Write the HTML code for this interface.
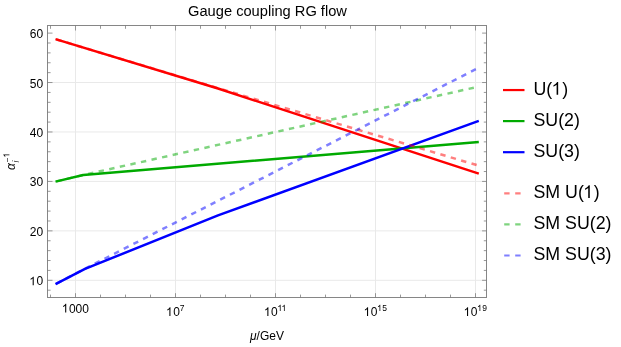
<!DOCTYPE html>
<html><head><meta charset="utf-8"><title>Gauge coupling RG flow</title>
<style>html,body{margin:0;padding:0;background:#fff;}body{width:621px;height:347px;overflow:hidden;}svg{display:block;will-change:transform;}text{font-family:"Liberation Sans",sans-serif;fill:#000;}</style></head><body>
<svg width="621" height="347" viewBox="0 0 621 347">
<rect x="0" y="0" width="621" height="347" fill="#ffffff"></rect>
<g stroke="#e9e9e9" stroke-width="1" fill="none">
<line x1="75.50" y1="25.5" x2="75.50" y2="297.5"></line>
<line x1="175.50" y1="25.5" x2="175.50" y2="297.5"></line>
<line x1="275.50" y1="25.5" x2="275.50" y2="297.5"></line>
<line x1="375.50" y1="25.5" x2="375.50" y2="297.5"></line>
<line x1="475.50" y1="25.5" x2="475.50" y2="297.5"></line>
<line x1="47.5" y1="280.30" x2="486.5" y2="280.30"></line>
<line x1="47.5" y1="230.86" x2="486.5" y2="230.86"></line>
<line x1="47.5" y1="181.42" x2="486.5" y2="181.42"></line>
<line x1="47.5" y1="131.98" x2="486.5" y2="131.98"></line>
<line x1="47.5" y1="82.54" x2="486.5" y2="82.54"></line>
</g>
<clipPath id="c"><rect x="47.5" y="25.5" width="439.0" height="272.0"></rect></clipPath>
<g fill="none" stroke-width="2.5" stroke-linejoin="round" clip-path="url(#c)">
<polyline points="55.50,39.15 218.00,88.55 478.80,173.60" stroke="#ff0000"></polyline>
<polyline points="55.50,181.60 83.20,175.00 478.80,141.90" stroke="#00aa00"></polyline>
<polyline points="55.50,284.10 85.00,268.90 218.00,215.35 478.80,120.85" stroke="#0000ff"></polyline>
<g stroke-dasharray="5.4 5.43" stroke-dashoffset="9.83" stroke-opacity="0.5">
<polyline points="55.50,39.15 218.00,88.10 478.80,165.70" stroke="#ff0000"></polyline>
<polyline points="55.50,181.60 83.20,175.00 478.80,86.60" stroke="#00aa00"></polyline>
<polyline points="55.50,284.10 85.00,268.70 478.80,67.70" stroke="#0000ff"></polyline>
</g></g>
<g stroke="#868686" stroke-width="1" fill="none">
<rect x="47.5" y="25.5" width="439.0" height="272.0"></rect>
<g stroke="#777777" stroke-width="0.75">
<line x1="50.50" y1="297.5" x2="50.50" y2="294.6"></line>
<line x1="50.50" y1="25.5" x2="50.50" y2="28.8"></line>
<line x1="75.50" y1="297.5" x2="75.50" y2="293.2"></line>
<line x1="75.50" y1="25.5" x2="75.50" y2="30.5"></line>
<line x1="100.50" y1="297.5" x2="100.50" y2="294.6"></line>
<line x1="100.50" y1="25.5" x2="100.50" y2="28.8"></line>
<line x1="125.50" y1="297.5" x2="125.50" y2="294.6"></line>
<line x1="125.50" y1="25.5" x2="125.50" y2="28.8"></line>
<line x1="150.50" y1="297.5" x2="150.50" y2="294.6"></line>
<line x1="150.50" y1="25.5" x2="150.50" y2="28.8"></line>
<line x1="175.50" y1="297.5" x2="175.50" y2="293.2"></line>
<line x1="175.50" y1="25.5" x2="175.50" y2="30.5"></line>
<line x1="200.50" y1="297.5" x2="200.50" y2="294.6"></line>
<line x1="200.50" y1="25.5" x2="200.50" y2="28.8"></line>
<line x1="225.50" y1="297.5" x2="225.50" y2="294.6"></line>
<line x1="225.50" y1="25.5" x2="225.50" y2="28.8"></line>
<line x1="250.50" y1="297.5" x2="250.50" y2="294.6"></line>
<line x1="250.50" y1="25.5" x2="250.50" y2="28.8"></line>
<line x1="275.50" y1="297.5" x2="275.50" y2="293.2"></line>
<line x1="275.50" y1="25.5" x2="275.50" y2="30.5"></line>
<line x1="300.50" y1="297.5" x2="300.50" y2="294.6"></line>
<line x1="300.50" y1="25.5" x2="300.50" y2="28.8"></line>
<line x1="325.50" y1="297.5" x2="325.50" y2="294.6"></line>
<line x1="325.50" y1="25.5" x2="325.50" y2="28.8"></line>
<line x1="350.50" y1="297.5" x2="350.50" y2="294.6"></line>
<line x1="350.50" y1="25.5" x2="350.50" y2="28.8"></line>
<line x1="375.50" y1="297.5" x2="375.50" y2="293.2"></line>
<line x1="375.50" y1="25.5" x2="375.50" y2="30.5"></line>
<line x1="400.50" y1="297.5" x2="400.50" y2="294.6"></line>
<line x1="400.50" y1="25.5" x2="400.50" y2="28.8"></line>
<line x1="425.50" y1="297.5" x2="425.50" y2="294.6"></line>
<line x1="425.50" y1="25.5" x2="425.50" y2="28.8"></line>
<line x1="450.50" y1="297.5" x2="450.50" y2="294.6"></line>
<line x1="450.50" y1="25.5" x2="450.50" y2="28.8"></line>
<line x1="475.50" y1="297.5" x2="475.50" y2="293.2"></line>
<line x1="475.50" y1="25.5" x2="475.50" y2="30.5"></line>
<line x1="47.5" y1="290.19" x2="50.6" y2="290.19"></line>
<line x1="486.5" y1="290.19" x2="483.8" y2="290.19"></line>
<line x1="47.5" y1="280.30" x2="52.5" y2="280.30"></line>
<line x1="486.5" y1="280.30" x2="482.1" y2="280.30"></line>
<line x1="47.5" y1="270.41" x2="50.6" y2="270.41"></line>
<line x1="486.5" y1="270.41" x2="483.8" y2="270.41"></line>
<line x1="47.5" y1="260.52" x2="50.6" y2="260.52"></line>
<line x1="486.5" y1="260.52" x2="483.8" y2="260.52"></line>
<line x1="47.5" y1="250.64" x2="50.6" y2="250.64"></line>
<line x1="486.5" y1="250.64" x2="483.8" y2="250.64"></line>
<line x1="47.5" y1="240.75" x2="50.6" y2="240.75"></line>
<line x1="486.5" y1="240.75" x2="483.8" y2="240.75"></line>
<line x1="47.5" y1="230.86" x2="52.5" y2="230.86"></line>
<line x1="486.5" y1="230.86" x2="482.1" y2="230.86"></line>
<line x1="47.5" y1="220.97" x2="50.6" y2="220.97"></line>
<line x1="486.5" y1="220.97" x2="483.8" y2="220.97"></line>
<line x1="47.5" y1="211.08" x2="50.6" y2="211.08"></line>
<line x1="486.5" y1="211.08" x2="483.8" y2="211.08"></line>
<line x1="47.5" y1="201.20" x2="50.6" y2="201.20"></line>
<line x1="486.5" y1="201.20" x2="483.8" y2="201.20"></line>
<line x1="47.5" y1="191.31" x2="50.6" y2="191.31"></line>
<line x1="486.5" y1="191.31" x2="483.8" y2="191.31"></line>
<line x1="47.5" y1="181.42" x2="52.5" y2="181.42"></line>
<line x1="486.5" y1="181.42" x2="482.1" y2="181.42"></line>
<line x1="47.5" y1="171.53" x2="50.6" y2="171.53"></line>
<line x1="486.5" y1="171.53" x2="483.8" y2="171.53"></line>
<line x1="47.5" y1="161.64" x2="50.6" y2="161.64"></line>
<line x1="486.5" y1="161.64" x2="483.8" y2="161.64"></line>
<line x1="47.5" y1="151.76" x2="50.6" y2="151.76"></line>
<line x1="486.5" y1="151.76" x2="483.8" y2="151.76"></line>
<line x1="47.5" y1="141.87" x2="50.6" y2="141.87"></line>
<line x1="486.5" y1="141.87" x2="483.8" y2="141.87"></line>
<line x1="47.5" y1="131.98" x2="52.5" y2="131.98"></line>
<line x1="486.5" y1="131.98" x2="482.1" y2="131.98"></line>
<line x1="47.5" y1="122.09" x2="50.6" y2="122.09"></line>
<line x1="486.5" y1="122.09" x2="483.8" y2="122.09"></line>
<line x1="47.5" y1="112.20" x2="50.6" y2="112.20"></line>
<line x1="486.5" y1="112.20" x2="483.8" y2="112.20"></line>
<line x1="47.5" y1="102.32" x2="50.6" y2="102.32"></line>
<line x1="486.5" y1="102.32" x2="483.8" y2="102.32"></line>
<line x1="47.5" y1="92.43" x2="50.6" y2="92.43"></line>
<line x1="486.5" y1="92.43" x2="483.8" y2="92.43"></line>
<line x1="47.5" y1="82.54" x2="52.5" y2="82.54"></line>
<line x1="486.5" y1="82.54" x2="482.1" y2="82.54"></line>
<line x1="47.5" y1="72.65" x2="50.6" y2="72.65"></line>
<line x1="486.5" y1="72.65" x2="483.8" y2="72.65"></line>
<line x1="47.5" y1="62.76" x2="50.6" y2="62.76"></line>
<line x1="486.5" y1="62.76" x2="483.8" y2="62.76"></line>
<line x1="47.5" y1="52.88" x2="50.6" y2="52.88"></line>
<line x1="486.5" y1="52.88" x2="483.8" y2="52.88"></line>
<line x1="47.5" y1="42.99" x2="50.6" y2="42.99"></line>
<line x1="486.5" y1="42.99" x2="483.8" y2="42.99"></line>
<line x1="47.5" y1="33.10" x2="52.5" y2="33.10"></line>
<line x1="486.5" y1="33.10" x2="482.1" y2="33.10"></line>
</g></g>
<text x="267.5" y="15.8" font-size="14.67" text-anchor="middle">Gauge coupling RG flow</text>
<text x="43.1" y="285.30" font-size="12" text-anchor="end"><tspan visibility="hidden">1</tspan>0</text><path d="M763 0H583V1147Q518 1085 412.5 1023Q307 961 223 930V1104Q374 1175 487 1276Q600 1377 647 1472H763Z" fill="#000" transform="translate(29.26 285.30) scale(0.00586 -0.00586)"></path>
<text x="43.1" y="235.86" font-size="12" text-anchor="end">20</text>
<text x="43.1" y="186.42" font-size="12" text-anchor="end">30</text>
<text x="43.1" y="136.98" font-size="12" text-anchor="end">40</text>
<text x="43.1" y="87.54" font-size="12" text-anchor="end">50</text>
<text x="43.1" y="38.10" font-size="12" text-anchor="end">60</text>
<text x="75.60" y="312.5" font-size="12" text-anchor="middle"><tspan visibility="hidden">1</tspan>000</text><path d="M763 0H583V1147Q518 1085 412.5 1023Q307 961 223 930V1104Q374 1175 487 1276Q600 1377 647 1472H763Z" fill="#000" transform="translate(61.77 312.50) scale(0.00586 -0.00586)"></path>
<text x="175.50" y="315.9" font-size="12" text-anchor="middle"><tspan visibility="hidden">1</tspan>0<tspan font-size="8.5" dy="-5">7</tspan></text><path d="M763 0H583V1147Q518 1085 412.5 1023Q307 961 223 930V1104Q374 1175 487 1276Q600 1377 647 1472H763Z" fill="#000" transform="translate(165.97 315.90) scale(0.00586 -0.00586)"></path>
<text x="275.50" y="315.9" font-size="12" text-anchor="middle"><tspan visibility="hidden">1</tspan>0<tspan font-size="8.5" dy="-5"><tspan visibility="hidden">1</tspan><tspan visibility="hidden">1</tspan></tspan></text><path d="M763 0H583V1147Q518 1085 412.5 1023Q307 961 223 930V1104Q374 1175 487 1276Q600 1377 647 1472H763Z" fill="#000" transform="translate(263.93 315.90) scale(0.00586 -0.00586)"></path><path d="M763 0H583V1147Q518 1085 412.5 1023Q307 961 223 930V1104Q374 1175 487 1276Q600 1377 647 1472H763Z" fill="#000" transform="translate(277.43 310.90) scale(0.00415 -0.00415)"></path><path d="M763 0H583V1147Q518 1085 412.5 1023Q307 961 223 930V1104Q374 1175 487 1276Q600 1377 647 1472H763Z" fill="#000" transform="translate(281.52 310.90) scale(0.00415 -0.00415)"></path>
<text x="375.50" y="315.9" font-size="12" text-anchor="middle"><tspan visibility="hidden">1</tspan>0<tspan font-size="8.5" dy="-5"><tspan visibility="hidden">1</tspan>5</tspan></text><path d="M763 0H583V1147Q518 1085 412.5 1023Q307 961 223 930V1104Q374 1175 487 1276Q600 1377 647 1472H763Z" fill="#000" transform="translate(363.61 315.90) scale(0.00586 -0.00586)"></path><path d="M763 0H583V1147Q518 1085 412.5 1023Q307 961 223 930V1104Q374 1175 487 1276Q600 1377 647 1472H763Z" fill="#000" transform="translate(377.11 310.90) scale(0.00415 -0.00415)"></path>
<text x="475.50" y="315.9" font-size="12" text-anchor="middle"><tspan visibility="hidden">1</tspan>0<tspan font-size="8.5" dy="-5"><tspan visibility="hidden">1</tspan>9</tspan></text><path d="M763 0H583V1147Q518 1085 412.5 1023Q307 961 223 930V1104Q374 1175 487 1276Q600 1377 647 1472H763Z" fill="#000" transform="translate(463.61 315.90) scale(0.00586 -0.00586)"></path><path d="M763 0H583V1147Q518 1085 412.5 1023Q307 961 223 930V1104Q374 1175 487 1276Q600 1377 647 1472H763Z" fill="#000" transform="translate(477.11 310.90) scale(0.00415 -0.00415)"></path>
<text x="267" y="339.7" font-size="12" text-anchor="middle"><tspan font-style="italic">μ</tspan>/GeV</text>
<g transform="translate(15,170) rotate(-90)">
<text x="0" y="0" font-size="12" font-style="italic">α</text>
<text x="7.7" y="-4.7" font-size="8.5">−</text>
<text x="12.66" y="-5.6" font-size="8.5"><tspan visibility="hidden">1</tspan></text><path d="M763 0H583V1147Q518 1085 412.5 1023Q307 961 223 930V1104Q374 1175 487 1276Q600 1377 647 1472H763Z" fill="#000" transform="translate(12.32 -5.60) scale(0.00415 -0.00415)"></path>
<text x="7.5" y="4.1" font-size="8.5" font-style="italic">i</text>
</g>
<line x1="503" y1="90.05" x2="524.5" y2="90.05" stroke="#ff0000" stroke-width="2.2"></line>
<text x="533.5" y="94.75" font-size="17.8">U(<tspan visibility="hidden">1</tspan>)</text><path d="M763 0H583V1147Q518 1085 412.5 1023Q307 961 223 930V1104Q374 1175 487 1276Q600 1377 647 1472H763Z" fill="#000" transform="translate(551.54 94.75) scale(0.00869 -0.00869)"></path>
<line x1="503" y1="121.1" x2="524.5" y2="121.1" stroke="#00aa00" stroke-width="2.2"></line>
<text x="533.5" y="125.80" font-size="17.8">SU(2)</text>
<line x1="503" y1="152.2" x2="524.5" y2="152.2" stroke="#0000ff" stroke-width="2.2"></line>
<text x="533.5" y="156.90" font-size="17.8">SU(3)</text>
<path d="M504.2 193.3H509.6M515.2 193.3H520.6" stroke="#ff0000" stroke-width="2.2" stroke-opacity="0.5" fill="none"></path>
<text x="533.5" y="198.00" font-size="17.8">SM U(<tspan visibility="hidden">1</tspan>)</text><path d="M763 0H583V1147Q518 1085 412.5 1023Q307 961 223 930V1104Q374 1175 487 1276Q600 1377 647 1472H763Z" fill="#000" transform="translate(583.15 198.00) scale(0.00869 -0.00869)"></path>
<path d="M504.2 224.4H509.6M515.2 224.4H520.6" stroke="#00aa00" stroke-width="2.2" stroke-opacity="0.5" fill="none"></path>
<text x="533.5" y="229.10" font-size="17.8">SM SU(2)</text>
<path d="M504.2 255.5H509.6M515.2 255.5H520.6" stroke="#0000ff" stroke-width="2.2" stroke-opacity="0.5" fill="none"></path>
<text x="533.5" y="260.20" font-size="17.8">SM SU(3)</text>
</svg></body></html>
